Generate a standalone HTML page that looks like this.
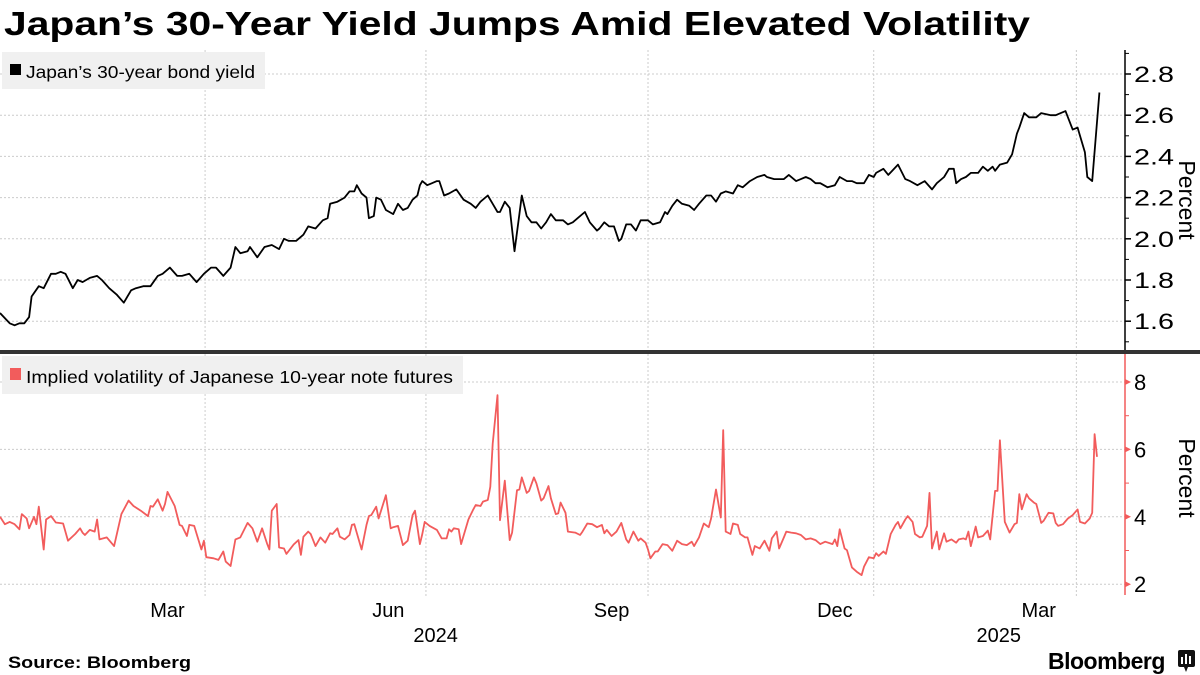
<!DOCTYPE html>
<html><head><meta charset="utf-8">
<style>
html,body{margin:0;padding:0;background:#fff;}
svg{display:block;font-family:"Liberation Sans",sans-serif;}
</style></head>
<body>
<svg id="chart" width="1200" height="675" viewBox="0 0 1200 675">
<text x="4" y="35" font-size="33" font-weight="bold" textLength="1026" lengthAdjust="spacingAndGlyphs">Japan’s 30-Year Yield Jumps Amid Elevated Volatility</text>
<g id="grid"></g>
<rect x="2" y="52" width="263" height="37" fill="#f0f0f0"/>
<rect x="10" y="64" width="11" height="11" fill="#000"/>
<text x="26" y="78" font-size="17.5" textLength="229" lengthAdjust="spacingAndGlyphs">Japan’s 30-year bond yield</text>
<rect x="2" y="356" width="461" height="38" fill="#f0f0f0"/>
<rect x="10" y="368" width="11" height="12" fill="#f25c5c"/>
<text x="26" y="383" font-size="17.5" textLength="427" lengthAdjust="spacingAndGlyphs">Implied volatility of Japanese 10-year note futures</text>
<g id="axes"></g>
<g id="series"></g>
<rect x="0" y="350" width="1200" height="4" fill="#333"/>
<text x="1185" y="200" font-size="23" text-anchor="middle" transform="rotate(90 1185 200)" dominant-baseline="middle">Percent</text>
<text x="1185" y="478" font-size="23" text-anchor="middle" transform="rotate(90 1185 478)" dominant-baseline="middle">Percent</text>
<text x="8" y="668" font-size="17" font-weight="bold" textLength="183" lengthAdjust="spacingAndGlyphs">Source: Bloomberg</text>
<text x="1048" y="669" font-size="23" font-weight="bold" letter-spacing="-0.5">Bloomberg</text>
<g>
<rect x="1178" y="650" width="17" height="17" rx="2" fill="#111"/>
<path d="M1184 667 L1186 672 L1188 667 Z" fill="#111"/>
<rect x="1181" y="657" width="2" height="7" fill="#fff"/><rect x="1185" y="654" width="2" height="10" fill="#fff"/><rect x="1189" y="656" width="2" height="8" fill="#fff"/>
</g>
</svg>
<script>
const yieldData = [[0,1.64],[4,1.59],[6,1.58],[8,1.59],[10,1.59],[12,1.62],[13,1.72],[16,1.77],[18,1.76],[21,1.83],[23,1.83],[25,1.84],[27,1.83],[30,1.76],[32,1.80],[34,1.79],[37,1.81],[40,1.82],[42,1.80],[45,1.76],[48,1.73],[51,1.69],[54,1.75],[56,1.76],[59,1.77],[62,1.77],[65,1.82],[67,1.83],[70,1.86],[73,1.82],[75,1.82],[78,1.83],[81,1.79],[84,1.83],[87,1.86],[89,1.86],[92,1.82],[95,1.86],[97,1.96],[99,1.93],[102,1.94],[103,1.96],[106,1.91],[109,1.96],[112,1.97],[115,1.95],[117,2.00],[119,1.99],[122,1.99],[125,2.02],[127,2.06],[130,2.05],[133,2.09],[135,2.10],[136,2.17],[139,2.18],[142,2.20],[144,2.23],[146,2.23],[147,2.26],[149,2.22],[151,2.20],[152,2.10],[154,2.11],[155,2.20],[157,2.19],[159,2.14],[162,2.12],[164,2.17],[166,2.14],[168,2.15],[170,2.19],[172,2.21],[173,2.26],[174,2.28],[176,2.26],[178,2.27],[180,2.28],[181,2.28],[183,2.21],[185,2.22],[188,2.24],[191,2.19],[194,2.17],[196,2.15],[198,2.18],[201,2.21],[203,2.17],[205,2.13],[206,2.13],[208,2.18],[210,2.15],[212,1.94],[214,2.12],[215,2.21],[217,2.11],[219,2.08],[221,2.08],[223,2.05],[225,2.08],[227,2.12],[229,2.09],[232,2.09],[234,2.07],[236,2.08],[238,2.10],[241,2.13],[243,2.08],[246,2.04],[247,2.05],[249,2.08],[251,2.06],[253,2.06],[255,1.99],[256,2.00],[258,2.07],[260,2.07],[262,2.04],[264,2.09],[267,2.09],[269,2.07],[272,2.08],[274,2.13],[275,2.12],[277,2.16],[279,2.19],[281,2.17],[284,2.16],[286,2.14],[288,2.17],[291,2.21],[293,2.21],[295,2.18],[297,2.22],[299,2.23],[302,2.22],[304,2.26],[306,2.25],[309,2.28],[312,2.30],[315,2.31],[316,2.30],[319,2.29],[323,2.29],[325,2.31],[328,2.28],[330,2.29],[332,2.30],[334,2.29],[336,2.27],[338,2.27],[341,2.25],[344,2.26],[346,2.30],[349,2.28],[351,2.28],[353,2.27],[356,2.27],[358,2.31],[360,2.30],[361,2.32],[364,2.34],[366,2.31],[370,2.36],[373,2.29],[375,2.28],[378,2.26],[381,2.28],[384,2.24],[386,2.27],[389,2.30],[391,2.34],[393,2.34],[394,2.27],[396,2.29],[398,2.30],[400,2.32],[403,2.32],[405,2.35],[407,2.33],[409,2.35],[410,2.33],[412,2.36],[415,2.37],[417,2.41],[419,2.51],[420,2.54],[422,2.61],[424,2.59],[427,2.59],[429,2.61],[433,2.60],[435,2.60],[439,2.62],[441,2.56],[442,2.53],[444,2.54],[445,2.50],[447,2.42],[448,2.30],[450,2.28],[453,2.71]];
const volData = [[0,4.0],[2,3.78],[4,3.85],[6,3.78],[8,3.63],[9,4.08],[11,3.95],[12,3.66],[14,4.0],[15,3.78],[16,4.30],[18,3.03],[19,3.92],[21,4.02],[23,3.83],[26,3.80],[28,3.29],[31,3.49],[33,3.66],[34,3.53],[35,3.46],[37,3.61],[39,3.56],[40,3.92],[41,3.33],[44,3.39],[47,3.13],[50,4.08],[53,4.48],[55,4.32],[58,4.18],[61,4.02],[62,4.32],[63,4.30],[65,4.52],[67,4.18],[68,4.38],[69,4.74],[72,4.32],[74,3.76],[75,3.73],[77,3.43],[78,3.76],[80,3.73],[83,3.03],[84,3.29],[85,2.80],[88,2.77],[90,2.72],[92,2.97],[93,2.67],[95,2.54],[97,3.33],[99,3.39],[102,3.82],[104,3.66],[106,3.26],[108,3.66],[110,3.21],[111,3.03],[112,4.18],[114,4.38],[115,3.09],[117,3.06],[118,2.90],[121,3.18],[123,3.31],[124,2.87],[125,3.41],[127,3.56],[128,3.49],[130,3.13],[132,3.39],[134,3.23],[136,3.51],[137,3.49],[139,3.66],[140,3.41],[142,3.33],[144,3.46],[145,3.76],[146,3.78],[149,3.03],[151,3.76],[152,4.02],[153,4.05],[155,4.30],[156,3.95],[159,4.64],[161,3.66],[162,3.69],[164,3.73],[166,3.16],[168,3.29],[170,4.05],[171,4.18],[173,3.19],[174,3.49],[175,3.85],[177,3.73],[180,3.61],[182,3.36],[184,3.36],[185,3.63],[186,3.56],[187,3.66],[189,3.63],[190,3.19],[193,3.92],[195,4.22],[196,4.35],[198,4.32],[199,4.45],[201,4.50],[202,4.89],[203,6.17],[205,7.61],[206,3.90],[208,5.07],[210,3.31],[211,3.53],[213,4.79],[214,4.81],[215,5.17],[217,4.71],[218,4.77],[220,5.17],[221,4.99],[223,4.48],[224,4.55],[226,4.91],[227,4.55],[229,4.08],[230,4.10],[231,4.42],[233,4.12],[234,3.56],[237,3.53],[239,3.46],[240,3.56],[242,3.80],[244,3.78],[246,3.69],[248,3.76],[249,3.51],[250,3.61],[252,3.43],[254,3.56],[256,3.82],[258,3.33],[259,3.23],[261,3.56],[263,3.29],[264,3.36],[266,3.23],[267,3.03],[268,2.77],[270,2.97],[271,2.97],[273,3.19],[275,3.16],[277,2.99],[279,3.29],[281,3.19],[283,3.16],[285,3.26],[286,3.13],[288,3.39],[290,3.80],[292,3.69],[293,3.95],[295,4.81],[297,3.98],[298,6.57],[299,3.56],[301,3.49],[302,3.80],[304,3.76],[305,3.49],[307,3.39],[308,3.39],[310,2.87],[311,3.13],[313,3.06],[315,3.29],[317,2.99],[318,3.36],[320,3.56],[321,3.06],[323,3.39],[324,3.56],[326,3.53],[328,3.51],[330,3.46],[332,3.33],[334,3.36],[336,3.31],[338,3.19],[340,3.26],[343,3.19],[344,3.33],[345,3.13],[346,3.63],[348,3.06],[349,3.01],[351,2.50],[353,2.37],[355,2.27],[356,2.52],[358,2.80],[360,2.77],[361,2.92],[362,2.84],[364,2.97],[365,2.90],[367,3.49],[369,3.76],[370,3.85],[371,3.66],[373,3.92],[374,4.02],[376,3.85],[377,3.49],[379,3.39],[380,3.41],[382,3.73],[383,4.71],[384,3.06],[386,3.56],[387,3.03],[389,3.51],[390,3.26],[392,3.33],[394,3.23],[395,3.33],[397,3.36],[398,3.33],[399,3.56],[400,3.13],[402,3.71],[403,3.39],[405,3.43],[407,3.59],[408,3.33],[410,4.77],[411,4.77],[412,6.27],[414,3.85],[416,3.53],[418,3.78],[419,3.82],[420,4.67],[421,4.22],[423,4.67],[424,4.55],[426,4.42],[427,4.38],[429,3.82],[430,3.88],[432,4.12],[434,4.10],[435,3.82],[436,3.73],[438,3.78],[440,3.95],[442,4.05],[444,4.22],[445,3.85],[447,3.80],[449,3.95],[450,4.12],[451,6.45],[452,5.78]];
const topTicks = [1.6,1.8,2.0,2.2,2.4,2.6,2.8];
const topTickLabels = ["1.6","1.8","2.0","2.2","2.4","2.6","2.8"];
const topMinor = [1.5,1.7,1.9,2.1,2.3,2.5,2.7,2.9];
const botTicks = [2,4,6,8];
const botTickLabels = ["2","4","6","8"];
const botMinor = [3,5,7];
const gridDays = [84.5,175.5,267,360,443.5];
const monthLabels = ["Mar","Jun","Sep","Dec","Mar"];
const monthLabelDays = [69,160,252,344,428];
const yearLabels = ["2024","2025"];
const yearLabelDays = [179.5,411.5];

const NS="http://www.w3.org/2000/svg";
const xS = d => d*2.427;
const yTop = v => 74 + (2.8 - v)*206;
const yBot = v => 382 + (8 - v)*33.7;
const AX=1125;
function mk(tag, attrs, parent){const e=document.createElementNS(NS,tag);for(const k in attrs)e.setAttribute(k,attrs[k]);parent.appendChild(e);return e;}
const grid=document.getElementById('grid'), axes=document.getElementById('axes'), series=document.getElementById('series');

gridDays.forEach((d,i)=>{
  const l=mk('line',{x1:xS(d),x2:xS(d),y1:50,y2:597,stroke:'#ccc','stroke-dasharray':'2,2'},grid);
  
  
});
topTicks.forEach((v,i)=>{
  const l=mk('line',{x1:0,x2:AX,y1:yTop(v),y2:yTop(v),stroke:'#ccc','stroke-dasharray':'2,2'},grid);
  
  
  const t=mk('line',{x1:AX,x2:AX+6,y1:yTop(v),y2:yTop(v),stroke:'#000','stroke-width':1.5},axes);
  
  
  const tx=mk('text',{x:AX+9,y:yTop(v)+8,'font-size':22,textLength:40,lengthAdjust:'spacingAndGlyphs'},axes);
  tx.textContent=topTickLabels[i];
  
  
});
topMinor.forEach(v=>{
  const t=mk('line',{x1:AX,x2:AX+4,y1:yTop(v),y2:yTop(v),stroke:'#000'},axes);
  
  
});
const at=mk('line',{x1:AX,x2:AX,y1:50,y2:350,stroke:'#000','stroke-width':1.5},axes);


botTicks.forEach((v,i)=>{
  const l=mk('line',{x1:0,x2:AX,y1:yBot(v),y2:yBot(v),stroke:'#ccc','stroke-dasharray':'2,2'},grid);
  
  
  const t=mk('path',{d:`M${AX} ${yBot(v)-3} L${AX+6} ${yBot(v)} L${AX} ${yBot(v)+3} Z`,fill:'#f25c5c'},axes);
  
  
  const tx=mk('text',{x:AX+9,y:yBot(v)+8,'font-size':22},axes);
  tx.textContent=botTickLabels[i];
  
  
});
botMinor.forEach(v=>{
  const t=mk('line',{x1:AX,x2:AX+4,y1:yBot(v),y2:yBot(v),stroke:'#f25c5c'},axes);
  
  
});
const ab=mk('line',{x1:AX,x2:AX,y1:354,y2:595,stroke:'#f25c5c','stroke-width':1.5},axes);


monthLabels.forEach((m,i)=>{
  const t=mk('text',{x:xS(monthLabelDays[i]),y:617,'font-size':20,'text-anchor':'middle'},axes);
  t.textContent=m;
  
  
});
yearLabels.forEach((m,i)=>{
  const t=mk('text',{x:xS(yearLabelDays[i]),y:642,'font-size':20,'text-anchor':'middle'},axes);
  t.textContent=m;
  
  
});
const p1=mk('path',{d:'M'+yieldData.map(p=>xS(p[0]).toFixed(1)+' '+yTop(p[1]).toFixed(1)).join(' L'),fill:'none',stroke:'#000','stroke-width':1.8,'stroke-linejoin':'round'},series);


const p2=mk('path',{d:'M'+volData.map(p=>xS(p[0]).toFixed(1)+' '+yBot(p[1]).toFixed(1)).join(' L'),fill:'none',stroke:'#f25c5c','stroke-width':1.8,'stroke-linejoin':'round'},series);


</script>
</body></html>
